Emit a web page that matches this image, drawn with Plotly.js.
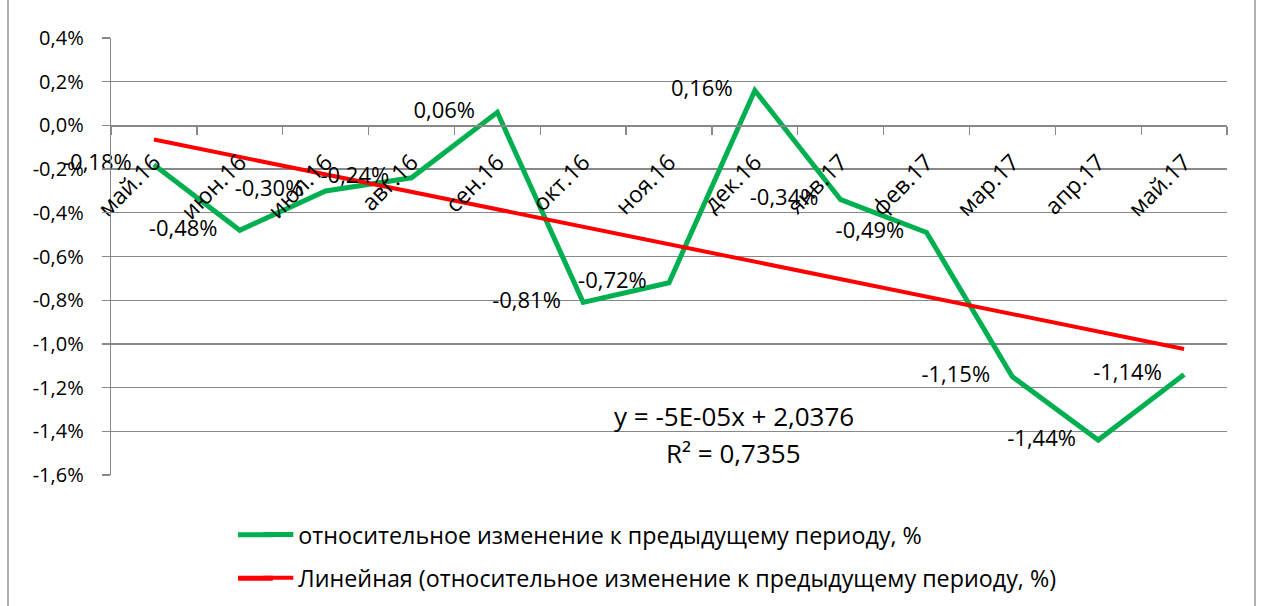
<!DOCTYPE html>
<html>
<head>
<meta charset="utf-8">
<script src="https://cdn.plot.ly/plotly-3.0.1.min.js"></script>
<style>html,body{margin:0;padding:0;background:#fff;}#chart{width:1261px;height:606px;}</style>
</head>
<body>
<div id="chart"></div>
<script>
// ---- data ----
var categories = ['май.16','июн.16','июл.16','авг.16','сен.16','окт.16','ноя.16','дек.16','янв.17','фев.17','мар.17','апр.17','май.17'];
var values = [-0.18, -0.48, -0.30, -0.24, 0.06, -0.81, -0.72, 0.16, -0.34, -0.49, -1.15, -1.44, -1.14];
var yTickValues = [0.4, 0.2, 0.0, -0.2, -0.4, -0.6, -0.8, -1.0, -1.2, -1.4, -1.6];
var yTickLabels = ['0,4%', '0,2%', '0,0%', '-0,2%', '-0,4%', '-0,6%', '-0,8%', '-1,0%', '-1,2%', '-1,4%', '-1,6%'];
var seriesName = 'относительное изменение к предыдущему периоду, %';
var trendName = 'Линейная (относительное изменение к предыдущему периоду, %)';
var equationLines = ['y = -5E-05x + 2,0376', 'R² = 0,7355'];

// least-squares linear trend of the series (the chart's "Линейная" trendline)
var n = values.length, sx = 0, sy = 0, sxx = 0, sxy = 0;
for (var i = 0; i < n; i++) { sx += i; sy += values[i]; sxx += i * i; sxy += i * values[i]; }
var slope = (n * sxy - sx * sy) / (n * sxx - sx * sx);
var intercept = (sy - slope * sx) / n;
var trendX = [categories[0], categories[n - 1]];
var trendY = [intercept, intercept + slope * (n - 1)];

var labels = values.map(function (v) { return v.toFixed(2).replace('.', ',') + '%'; });

var FONT = 'Open Sans, Noto Sans, sans-serif';
var GRID = '#888888';
var GREEN = '#00B050', RED = '#FF0000';

var traces = [
  {
    type: 'scatter', mode: 'lines',
    x: categories, y: values, name: seriesName,
    line: {color: GREEN, width: 5},
    legend: 'legend'
  },
  {
    type: 'scatter', mode: 'lines',
    x: trendX, y: trendY, name: trendName,
    line: {color: RED, width: 4},
    legend: 'legend2'
  },
  {
    type: 'scatter', mode: 'markers+text',
    x: categories, y: values, showlegend: false,
    marker: {size: 34, opacity: 0, color: GREEN},
    text: labels, textposition: 'middle left',
    textfont: {family: FONT, size: 22, color: '#000'},
    cliponaxis: false
  }
];

var legendFont = {family: FONT, size: 23.3, color: '#000'};

var layout = {
  width: 1261, height: 606,
  margin: {l: 111, r: 34, t: 38, b: 131, autoexpand: false},
  paper_bgcolor: '#fff', plot_bgcolor: '#fff',
  font: {family: FONT, size: 20, color: '#000'},
  separators: ',.',
  showlegend: true,
  xaxis: {
    type: 'category', range: [-0.5, 12.5],
    anchor: 'free', position: 0.8,
    showgrid: false, zeroline: false,
    showline: true, linecolor: GRID, linewidth: 1.3,
    ticks: 'outside', ticklen: 8, tickcolor: GRID, tickwidth: 1.3,
    tickson: 'boundaries', tickangle: -45, ticklabelstandoff: 13,
    tickfont: {family: FONT, size: 23, color: '#000'},
    automargin: false
  },
  yaxis: {
    range: [-1.6, 0.4],
    tickvals: yTickValues, ticktext: yTickLabels,
    showgrid: true, gridcolor: GRID, gridwidth: 1.3,
    zeroline: false, showline: true, linecolor: GRID, linewidth: 1.3,
    ticks: 'outside', ticklen: 8, tickcolor: GRID, tickwidth: 1.3,
    ticklabelstandoff: 14,
    tickfont: {family: FONT, size: 20, color: '#000'},
    automargin: false
  },
  legend: {
    x: 0.132, y: -0.137, xanchor: 'left', yanchor: 'middle',
    font: legendFont, bgcolor: 'rgba(0,0,0,0)'
  },
  legend2: {
    x: 0.132, y: -0.236, xanchor: 'left', yanchor: 'middle',
    font: legendFont, bgcolor: 'rgba(0,0,0,0)'
  },
  annotations: [
    {xref: 'paper', yref: 'y', x: 0.558, y: -1.33, text: equationLines[0], showarrow: false,
     font: {family: FONT, size: 26, color: '#000'}, xanchor: 'center', yanchor: 'middle'},
    {xref: 'paper', yref: 'y', x: 0.558, y: -1.5, text: equationLines[1], showarrow: false,
     font: {family: FONT, size: 26, color: '#000'}, xanchor: 'center', yanchor: 'middle'}
  ],
  shapes: [
    {type: 'rect', xref: 'paper', yref: 'paper', x0: -0.0923, x1: 1.0251, y0: -0.6, y1: 1.3,
     line: {color: GRID, width: 1.3}, fillcolor: 'rgba(0,0,0,0)', layer: 'below'},
    // lengthen the legend keys to the reference's longer line samples
    {type: 'line', xref: 'paper', yref: 'paper', x0: 0.1138, x1: 0.145, y0: -0.137, y1: -0.137,
     line: {color: GREEN, width: 5}},
    {type: 'line', xref: 'paper', yref: 'paper', x0: 0.1138, x1: 0.145, y0: -0.236, y1: -0.236,
     line: {color: RED, width: 5}}
  ]
};

Plotly.newPlot('chart', traces, layout, {displayModeBar: false, staticPlot: true});
</script>
</body>
</html>
